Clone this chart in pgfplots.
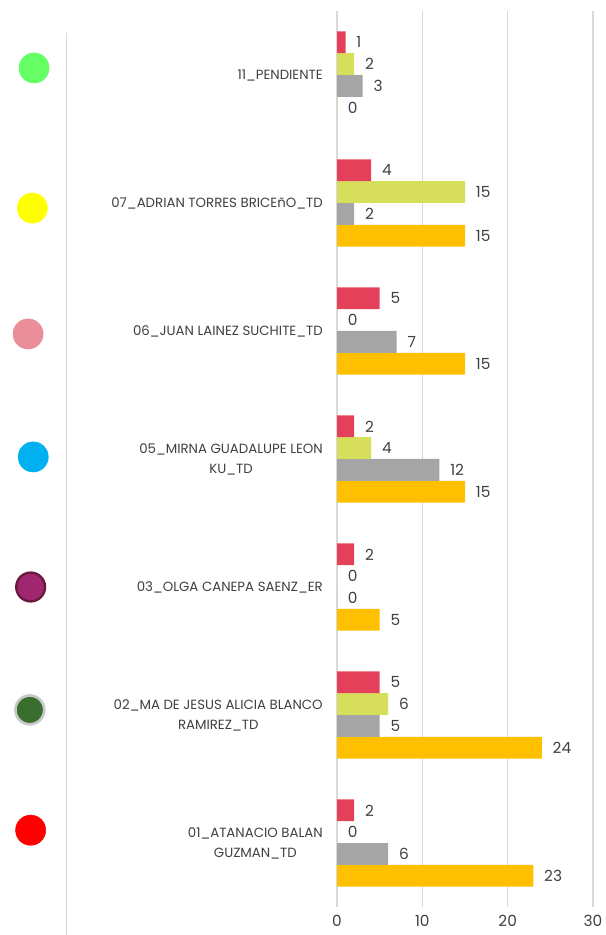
\documentclass[border=0pt]{standalone}
\usepackage{fontspec}
\setmainfont{Poppins}
\usepackage{pgfplots}
\pgfplotsset{compat=1.18}
\definecolor{cRed}{HTML}{E5405A}
\definecolor{cYG}{HTML}{D6DE5C}
\definecolor{cGray}{HTML}{A5A5A5}
\definecolor{cOrange}{HTML}{FFC000}
\definecolor{txt}{HTML}{404040}
\definecolor{grid}{HTML}{D9D9D9}
\definecolor{d1}{HTML}{66FF66}
\definecolor{d2}{HTML}{FFFF00}
\definecolor{d3}{HTML}{EA8F99}
\definecolor{d4}{HTML}{00B0F0}
\definecolor{d5}{HTML}{A0266F}
\definecolor{d5b}{HTML}{6A1A40}
\definecolor{d6}{HTML}{3A6E2F}
\definecolor{d6b}{HTML}{C8C8C8}
\definecolor{d7}{HTML}{FF0000}
\begin{document}
\begin{tikzpicture}
\path[use as bounding box] (0,0) rectangle (454.5pt,701.25pt);
\begin{axis}[
  at={(252.75pt,21pt)}, anchor=south west,
  scale only axis, width=192pt, height=672pt,
  xbar, bar width=0.17,
  xmin=0, xmax=30, ymin=-0.5, ymax=6.5,
  xtick={0,10,20,30},
  ytick={0,1,2,3,4,5,6},
  yticklabels={{01\_ATANACIO BALAN\\GUZMAN\_TD},{02\_MA DE JESUS ALICIA BLANCO\\RAMIREZ\_TD},{03\_OLGA CANEPA SAENZ\_ER},{05\_MIRNA GUADALUPE LEON\\KU\_TD},{06\_JUAN LAINEZ SUCHITE\_TD},{07\_ADRIAN TORRES BRICEñO\_TD},{11\_PENDIENTE}},
  xmajorgrids, major grid style={draw=grid, line width=0.8pt},
  axis line style={draw=none},
  major tick length=0pt,
  /pgf/number format/assume math mode=true,
  tick label style={font=\fontsize{10}{15}\selectfont, text=txt},
  xticklabel style={font=\fontsize{11.5}{14}\selectfont, inner sep=0pt, yshift=-6pt},
  yticklabel style={align=center, inner sep=0pt, xshift=-10.5pt},
  nodes near coords,
  every node near coord/.append style={font=\fontsize{11.5}{14}\selectfont, text=txt, anchor=west, inner sep=0pt, xshift=8pt},
  dot/.style={sharp plot, only marks, mark=*, mark size=11.3pt, forget plot, nodes near coords={}},
  clip=false,
]
\addplot[fill=cOrange, draw=none, bar shift=-0.255] coordinates {(23,0) (24,1) (5,2) (15,3) (15,4) (15,5) (0,6)};
\addplot[fill=cGray, draw=none, bar shift=-0.085] coordinates {(6,0) (5,1) (0,2) (12,3) (7,4) (2,5) (3,6)};
\addplot[fill=cYG, draw=none, bar shift=0.085] coordinates {(0,0) (6,1) (0,2) (4,3) (0,4) (15,5) (2,6)};
\addplot[fill=cRed, draw=none, bar shift=0.255] coordinates {(2,0) (5,1) (2,2) (2,3) (5,4) (4,5) (1,6)};
\draw[grid, line width=0.8pt] (axis cs:-31.65,6.33) -- (axis cs:-31.65,-0.72);
\addplot[dot, mark options={draw=d1, fill=d1}] coordinates {(-35.5,6.055)};
\addplot[dot, mark options={draw=d2, fill=d2}] coordinates {(-35.7,4.96)};
\addplot[dot, mark options={draw=d3, fill=d3}] coordinates {(-36.2,3.977)};
\addplot[dot, mark options={draw=d4, fill=d4}] coordinates {(-35.6,3.016)};
\addplot[dot, mark size=10.8pt, mark options={draw=d5b, line width=1.8pt, fill=d5}] coordinates {(-35.9,2.0)};
\addplot[dot, mark size=10.8pt, mark options={draw=d6b, line width=2pt, fill=d6}] coordinates {(-36.0,1.04)};
\addplot[dot, mark options={draw=d7, fill=d7}] coordinates {(-35.9,0.1)};
\end{axis}
\end{tikzpicture}
\end{document}
